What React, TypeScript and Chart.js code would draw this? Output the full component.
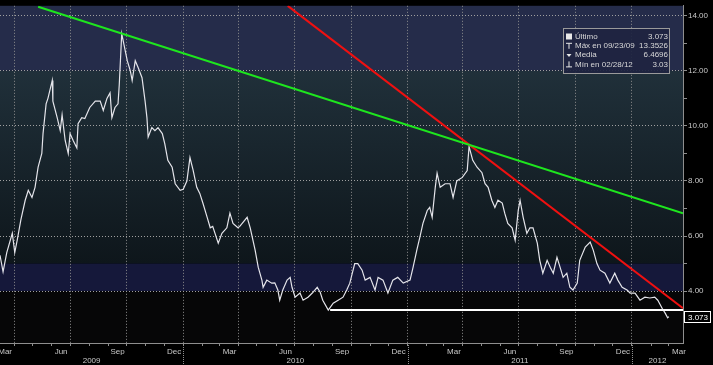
import React, { useEffect, useRef } from 'react';
import { Chart, registerables } from 'chart.js';

Chart.register(...registerables);

// x values are days counted from 2009-01-01
const seriesDays = [
  67, 72, 78, 87, 91, 95, 101, 108, 113, 119, 124, 129, 135, 137, 142, 145, 152, 153, 160, 165,
  168, 173, 178, 181, 186, 192, 194, 200, 205, 213, 222, 230, 235, 241, 246, 249, 254, 259, 261, 265,
  274, 279, 282, 287, 292, 298, 303, 306, 308, 314, 319, 324, 331, 335, 340, 347, 352, 360, 365, 371,
  376, 381, 387, 392, 397, 404, 409, 413, 422, 428, 436, 441, 446, 454, 457, 469, 474, 482, 487, 493,
  495, 501, 509, 514, 519, 522, 527, 534, 539, 542, 547, 555, 560, 568, 575, 583, 588, 592, 601, 609,
  617, 625, 631, 636, 644, 649, 656, 661, 669, 677, 682, 690, 698, 706, 714, 723, 734, 739, 745, 750,
  755, 762, 766, 770, 775, 778, 783, 791, 799, 804, 810, 819, 827, 830, 836, 843, 851, 856, 861, 867,
  872, 877, 884, 888, 893, 900, 905, 910, 913, 918, 924, 929, 934, 941, 945, 950, 957, 962, 967, 973,
  978, 983, 989, 994, 999, 1006, 1010, 1019, 1027, 1032, 1038, 1043, 1051, 1059, 1067, 1072, 1079, 1087, 1092, 1100,
  1108, 1116, 1124, 1132, 1137, 1144, 1149, 1153, 1155,
];
const seriesValues = [
  5.3, 4.7, 5.4, 6.1, 5.4, 5.85, 6.6, 7.3, 7.66, 7.4, 7.77, 8.5, 9.0, 9.72, 10.8, 11.0, 11.65, 10.9, 10.3, 9.83,
  10.4, 9.47, 9.0, 9.72, 9.47, 9.2, 10.08, 10.3, 10.27, 10.67, 10.9, 10.9, 10.56, 11.0, 11.2, 10.3, 10.67, 10.8, 11.5, 13.35,
  12.37, 12.0, 11.65, 12.37, 12.1, 11.75, 10.9, 10.3, 9.6, 9.94, 9.83, 9.94, 9.72, 9.36, 8.75, 8.5, 7.9, 7.66, 7.7, 8.0,
  8.85, 8.4, 7.77, 7.55, 7.2, 6.68, 6.3, 6.35, 5.74, 6.1, 6.3, 6.83, 6.46, 6.3, 6.35, 6.68, 6.3, 5.49, 4.87, 4.4,
  4.14, 4.4, 4.29, 4.3, 4.04, 3.67, 4.04, 4.4, 4.5, 4.14, 3.78, 3.93, 3.67, 3.78, 3.93, 4.14, 3.95, 3.67, 3.31, 3.56,
  3.67, 3.78, 4.04, 4.29, 5.0, 5.0, 4.76, 4.4, 4.5, 4.04, 4.5, 4.4, 3.93, 4.4, 4.5, 4.29, 4.4, 4.87, 5.49, 5.96,
  6.46, 6.93, 7.04, 6.68, 7.77, 8.28, 7.77, 7.9, 7.9, 7.4, 8.0, 8.13, 8.38, 9.25, 8.75, 8.5, 8.3, 7.9, 7.77, 7.3,
  7.04, 7.3, 7.2, 6.83, 6.46, 6.3, 5.85, 6.93, 7.3, 6.68, 6.1, 6.3, 6.3, 5.74, 5.12, 4.65, 5.12, 4.87, 4.65, 5.23,
  4.87, 4.5, 4.65, 4.14, 4.04, 4.29, 5.12, 5.6, 5.78, 5.49, 5.0, 4.76, 4.65, 4.29, 4.65, 4.4, 4.14, 4.04, 3.93, 3.93,
  3.67, 3.78, 3.75, 3.78, 3.67, 3.38, 3.2, 3.03, 3.073,
];

const greenTrendDays = [129, 1178];
const greenTrendValues = [14.33, 6.83];
const redTrendDays = [535, 1178];
const redTrendValues = [14.36, 3.38];
const supportDays = [604, 1178];
const supportValues = [3.31, 3.31];

const xMin = 67;
const xMax = 1178;
const yMin = 2.116;
const yMax = 14.362;

const yTicks = [4, 5, 6, 7, 8, 9, 10, 11, 12, 13, 14];
const monthTicks = [
  90, 120, 151, 181, 212, 243, 273, 304, 334,
  365, 396, 424, 455, 485, 516, 546, 577, 608, 638, 669, 699,
  730, 761, 789, 820, 850, 881, 911, 942, 973, 1003, 1034, 1064,
  1095, 1126, 1155, 1186,
];
const quarterTicks = [90, 181, 273, 365, 455, 546, 638, 730, 820, 911, 1003, 1095, 1186];
const quarterLabels = ['Mar', 'Jun', 'Sep', 'Dec', 'Mar', 'Jun', 'Sep', 'Dec', 'Mar', 'Jun', 'Sep', 'Dec', 'Mar'];
const yearStarts = [365, 730, 1095];
const yearLabels = ['2009', '2010', '2011', '2012'];

const legendLabels = ['Último', 'Máx en 09/23/09', 'Media', 'Mín en 02/28/12'];
const legendValues = ['3.073', '13.3526', '6.4696', '3.03'];
const lastValue = 3.073;
const lastLabel = '3.073';

const FONT = "'Liberation Sans', Arial, sans-serif";
const TEXT = '#c8c8c8';
const GRID = '#8e8e8e';
const HGRID = '#a0a0a0';
const CLEAR = 'rgba(0,0,0,0)';

const bounds = [xMin, ...yearStarts, xMax];
const yearMids = yearLabels.map((_, i) => (bounds[i] + bounds[i + 1]) / 2);

const bgPlugin = {
  id: 'bgBands',
  beforeDraw(chart: any) {
    const { ctx, chartArea: a, scales } = chart;
    const y = scales.y;
    const y12 = y.getPixelForValue(12);
    const y5 = y.getPixelForValue(5);
    const y4 = y.getPixelForValue(4);
    ctx.save();
    ctx.fillStyle = '#000';
    ctx.fillRect(0, 0, chart.width, chart.height);
    ctx.fillStyle = '#252c4a';
    ctx.fillRect(a.left, a.top, a.width, y12 - a.top);
    const g = ctx.createLinearGradient(0, y12, 0, y5);
    g.addColorStop(0, '#20303a');
    g.addColorStop(1, '#0e161b');
    ctx.fillStyle = g;
    ctx.fillRect(a.left, y12, a.width, y5 - y12);
    ctx.fillStyle = '#15183a';
    ctx.fillRect(a.left, y5, a.width, y4 - y5);
    ctx.fillStyle = '#060607';
    ctx.fillRect(a.left, y4, a.width, a.bottom - y4);
    ctx.restore();
  },
};

const overlayPlugin = {
  id: 'overlay',
  afterDraw(chart: any) {
    const { ctx, chartArea: a, scales } = chart;
    const x = scales.x;
    const y = scales.y;
    ctx.save();
    // year separators
    ctx.strokeStyle = GRID;
    ctx.setLineDash([1, 1]);
    ctx.lineWidth = 1;
    yearStarts.forEach((d) => {
      const px = Math.round(x.getPixelForValue(d)) + 0.5;
      ctx.beginPath();
      ctx.moveTo(px, a.bottom);
      ctx.lineTo(px, chart.height);
      ctx.stroke();
    });
    ctx.setLineDash([]);

    // last value box
    const ly = Math.round(y.getPixelForValue(lastValue));
    ctx.fillStyle = '#000';
    ctx.fillRect(a.right + 1, ly - 6, 27, 12);
    ctx.strokeStyle = '#ffffff';
    ctx.strokeRect(a.right + 1.5, ly - 5.5, 26, 11);
    ctx.fillStyle = '#ffffff';
    ctx.font = `8px ${FONT}`;
    ctx.textAlign = 'center';
    ctx.textBaseline = 'middle';
    ctx.fillText(lastLabel, a.right + 15, ly + 0.5);

    // legend box
    const bx = 563.5, by = 28.5, bw = 106, bh = 45;
    ctx.fillStyle = 'rgba(30,36,64,0.92)';
    ctx.fillRect(bx, by, bw, bh);
    ctx.strokeStyle = '#9a9a9a';
    ctx.strokeRect(bx, by, bw, bh);
    ctx.font = `8px ${FONT}`;
    ctx.textBaseline = 'middle';
    legendLabels.forEach((lab, i) => {
      const cy = 36.5 + i * 9.3;
      ctx.fillStyle = '#e8e8e8';
      ctx.strokeStyle = '#e8e8e8';
      ctx.lineWidth = 1;
      if (i === 0) {
        ctx.fillRect(566, cy - 3, 6, 6);
      } else if (i === 1) {
        ctx.beginPath();
        ctx.moveTo(566, cy - 2.5); ctx.lineTo(572, cy - 2.5);
        ctx.moveTo(569, cy - 2.5); ctx.lineTo(569, cy + 3);
        ctx.stroke();
      } else if (i === 2) {
        ctx.beginPath();
        ctx.moveTo(566.5, cy - 1); ctx.lineTo(571.5, cy - 1); ctx.lineTo(569, cy + 2); ctx.closePath();
        ctx.fill();
      } else {
        ctx.beginPath();
        ctx.moveTo(569, cy - 3); ctx.lineTo(569, cy + 2.5);
        ctx.moveTo(566, cy + 2.5); ctx.lineTo(572, cy + 2.5);
        ctx.stroke();
      }
      ctx.fillStyle = '#d8d8d8';
      ctx.textAlign = 'left';
      ctx.fillText(lab, 575, cy);
      ctx.textAlign = 'right';
      ctx.fillText(legendValues[i], 668, cy);
    });
    ctx.restore();
  },
};

function pts(days: number[], vals: number[]) {
  return days.map((d, i) => ({ x: d, y: vals[i] }));
}

function isQuarter(v: number) {
  return quarterTicks.indexOf(v) >= 0 && v <= xMax;
}

export default function App() {
  const ref = useRef<HTMLCanvasElement>(null);
  useEffect(() => {
    if (!ref.current) return;
    Chart.defaults.font.family = FONT;
    const chart = new Chart(ref.current, {
      type: 'line',
      data: {
        datasets: [
          {
            label: 'Tendencia verde',
            data: pts(greenTrendDays, greenTrendValues),
            borderColor: '#1ee61e',
            borderWidth: 2,
            pointRadius: 0,
            order: 1,
            clip: 0,
          },
          {
            label: 'Tendencia roja',
            data: pts(redTrendDays, redTrendValues),
            borderColor: '#f01010',
            borderWidth: 2,
            pointRadius: 0,
            order: 1,
            clip: 0,
          },
          {
            label: 'Soporte',
            data: pts(supportDays, supportValues),
            borderColor: '#ffffff',
            borderWidth: 2,
            pointRadius: 0,
            order: 2,
            clip: 0,
          },
          {
            label: 'Último',
            data: pts(seriesDays, seriesValues),
            borderColor: '#e4e4ea',
            borderWidth: 1.2,
            pointRadius: 0,
            tension: 0,
            order: 5,
            clip: 0,
          },
        ],
      } as any,
      options: {
        responsive: false,
        animation: false,
        devicePixelRatio: 1,
        layout: { padding: { top: 5, left: 0, right: 0, bottom: 0 } },
        plugins: { legend: { display: false }, tooltip: { enabled: false } },
        scales: {
          x: {
            type: 'linear',
            position: 'bottom',
            weight: 0,
            min: xMin,
            max: xMax,
            afterBuildTicks: (s: any) => {
              s.ticks = monthTicks.map((v) => ({ value: v }));
            },
            afterFit: (s: any) => {
              s.height = 12;
            },
            ticks: {
              autoSkip: false,
              maxRotation: 0,
              minRotation: 0,
              labelOffset: -9,
              padding: 1,
              color: TEXT,
              font: { size: 8, family: FONT },
              callback: (v: any) => {
                const i = quarterTicks.indexOf(Number(v));
                return i >= 0 ? quarterLabels[i] : '';
              },
            },
            grid: {
              display: true,
              drawOnChartArea: true,
              drawTicks: true,
              color: (c: any) => (c && c.tick && isQuarter(c.tick.value) ? GRID : CLEAR),
              tickColor: (c: any) => (c && c.tick && c.tick.value <= xMax ? GRID : CLEAR),
              tickLength: 3,
              lineWidth: 1,
            },
            border: { display: true, color: GRID, width: 1, dash: [1, 2] },
          },
          x2: {
            type: 'linear',
            position: 'bottom',
            weight: 1,
            min: xMin,
            max: xMax,
            afterBuildTicks: (s: any) => {
              s.ticks = yearMids.map((v) => ({ value: v }));
            },
            afterFit: (s: any) => {
              s.height = 10;
            },
            ticks: {
              autoSkip: false,
              maxRotation: 0,
              minRotation: 0,
              padding: 1,
              color: TEXT,
              font: { size: 8, family: FONT },
              callback: (_v: any, i: number) => yearLabels[i],
            },
            grid: { display: false, drawTicks: false },
            border: { display: false },
          },
          y: {
            type: 'linear',
            position: 'right',
            min: yMin,
            max: yMax,
            afterBuildTicks: (s: any) => {
              s.ticks = yTicks.map((v) => ({ value: v }));
            },
            afterFit: (s: any) => {
              s.width = 30;
            },
            ticks: {
              padding: 1,
              color: TEXT,
              font: { size: 8, family: FONT },
              callback: (v: any) => (Number(v) % 2 === 0 ? Number(v).toFixed(2) : ''),
            },
            grid: {
              display: true,
              drawOnChartArea: true,
              drawTicks: true,
              color: (c: any) => (c && c.tick && Math.round(c.tick.value) % 2 === 0 ? HGRID : CLEAR),
              tickColor: GRID,
              tickLength: 4,
              lineWidth: 1,
            },
            border: { display: true, color: GRID, width: 1, dash: [1, 2] },
          },
        },
      } as any,
      plugins: [bgPlugin, overlayPlugin],
    });
    return () => chart.destroy();
  }, []);

  return (
    <div style={{ position: 'fixed', left: 0, top: 0, width: 713, height: 365, background: '#000' }}>
      <canvas ref={ref} width={713} height={365} style={{ display: 'block' }} />
    </div>
  );
}
